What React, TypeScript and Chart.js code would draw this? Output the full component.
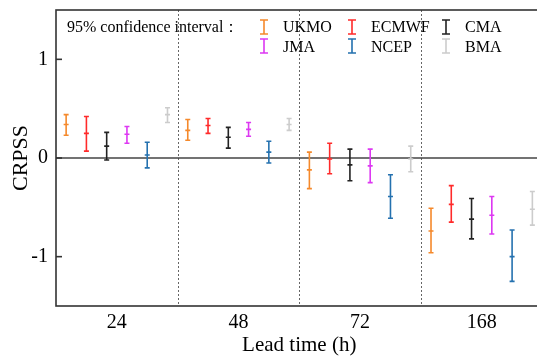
import { useEffect, useRef } from 'react';
import { Chart, registerables } from 'chart.js';

Chart.register(...registerables);

// ---------- data ----------
const leadTimes = ['24', '48', '72', '168'];
const modelNames = ['UKMO', 'ECMWF', 'CMA', 'JMA', 'NCEP', 'BMA'];
const modelColors = ['#F5892B', '#FF2A2A', '#222222', '#DD38F2', '#2471AF', '#CCCCCC'];

const ukmoMean = [0.34, 0.28, -0.12, -0.74];
const ukmoLow = [0.23, 0.18, -0.31, -0.96];
const ukmoHigh = [0.44, 0.39, 0.06, -0.51];

const ecmwfMean = [0.25, 0.33, -0.01, -0.47];
const ecmwfLow = [0.07, 0.25, -0.16, -0.65];
const ecmwfHigh = [0.42, 0.40, 0.15, -0.28];

const cmaMean = [0.12, 0.21, -0.07, -0.62];
const cmaLow = [-0.02, 0.10, -0.23, -0.82];
const cmaHigh = [0.26, 0.31, 0.09, -0.41];

const jmaMean = [0.24, 0.29, -0.08, -0.58];
const jmaLow = [0.15, 0.22, -0.25, -0.77];
const jmaHigh = [0.32, 0.36, 0.09, -0.39];

const ncepMean = [0.03, 0.06, -0.39, -1.0];
const ncepLow = [-0.10, -0.05, -0.61, -1.25];
const ncepHigh = [0.16, 0.17, -0.17, -0.73];

const bmaMean = [0.44, 0.34, -0.01, -0.52];
const bmaLow = [0.36, 0.28, -0.14, -0.68];
const bmaHigh = [0.51, 0.40, 0.12, -0.34];

const yTickValues = [-1, 0, 1];
const dividerValues = [1, 2, 3];
const legendTitle = '95% confidence interval：';

const seriesMeans = [ukmoMean, ecmwfMean, cmaMean, jmaMean, ncepMean, bmaMean];
const seriesLows = [ukmoLow, ecmwfLow, cmaLow, jmaLow, ncepLow, bmaLow];
const seriesHighs = [ukmoHigh, ecmwfHigh, cmaHigh, jmaHigh, ncepHigh, bmaHigh];

const FONT = '"Liberation Serif", "Times New Roman", serif';

function buildDatasets() {
  const nModels = modelNames.length;
  return modelNames.map((name, j) => {
    const data: any[] = [];
    leadTimes.forEach((_, g) => {
      const x = g + (j + 0.5) / nModels;
      data.push({ x, y: seriesLows[j][g] });
      data.push({ x, y: seriesMeans[j][g] });
      data.push({ x, y: seriesHighs[j][g] });
      data.push({ x, y: null });
    });
    return {
      type: 'line' as const,
      label: name,
      data,
      borderColor: modelColors[j],
      backgroundColor: modelColors[j],
      borderWidth: 1.6,
      pointStyle: 'line' as const,
      pointRadius: 2.5,
      pointHoverRadius: 2.5,
      pointBorderWidth: 1.6,
      pointBorderColor: modelColors[j],
      spanGaps: false,
      tension: 0,
    };
  });
}

const framePlugin = {
  id: 'frameAndDecor',
  beforeDatasetsDraw(chart: any) {
    const { ctx, chartArea } = chart;
    const { left, right, top, bottom } = chartArea;
    const xs = chart.scales.x;
    const ys = chart.scales.y;
    ctx.save();
    // dashed dividers
    ctx.strokeStyle = '#666666';
    ctx.lineWidth = 1;
    ctx.setLineDash([2, 2]);
    dividerValues.forEach((v) => {
      const px = Math.round(xs.getPixelForValue(v)) + 0.5;
      ctx.beginPath();
      ctx.moveTo(px, top);
      ctx.lineTo(px, bottom);
      ctx.stroke();
    });
    ctx.setLineDash([]);
    // zero line
    const y0 = ys.getPixelForValue(0);
    ctx.strokeStyle = '#444444';
    ctx.lineWidth = 1.6;
    ctx.beginPath();
    ctx.moveTo(left, y0);
    ctx.lineTo(right, y0);
    ctx.stroke();
    ctx.restore();
  },
  afterDraw(chart: any) {
    const { ctx, chartArea } = chart;
    const { left, right, top, bottom } = chartArea;
    const ys = chart.scales.y;
    ctx.save();
    // frame
    ctx.strokeStyle = '#333333';
    ctx.lineWidth = 1.6;
    ctx.strokeRect(left, top, right - left, bottom - top);
    // inward y ticks
    yTickValues.forEach((v) => {
      const py = ys.getPixelForValue(v);
      ctx.beginPath();
      ctx.moveTo(left, py);
      ctx.lineTo(left + 6, py);
      ctx.stroke();
    });
    // legend
    ctx.fillStyle = '#000000';
    ctx.font = `16px ${FONT}`;
    ctx.textBaseline = 'alphabetic';
    ctx.textAlign = 'left';
    ctx.fillText(legendTitle, 67, 32);
    const colX = [264, 352, 446];
    const rows = [
      { top: 20, bottom: 34, base: 32 },
      { top: 39, bottom: 53, base: 52 },
    ];
    modelNames.forEach((name, j) => {
      const row = rows[Math.floor(j / 3)];
      const cx = colX[j % 3];
      ctx.strokeStyle = modelColors[j];
      ctx.lineWidth = 1.6;
      ctx.beginPath();
      ctx.moveTo(cx, row.top);
      ctx.lineTo(cx, row.bottom);
      ctx.moveTo(cx - 4, row.top);
      ctx.lineTo(cx + 4, row.top);
      ctx.moveTo(cx - 4, row.bottom);
      ctx.lineTo(cx + 4, row.bottom);
      ctx.stroke();
      ctx.fillStyle = '#000000';
      ctx.fillText(name, cx + 19, row.base);
    });
    ctx.restore();
  },
};

export default function App() {
  const ref = useRef<HTMLCanvasElement>(null);
  useEffect(() => {
    document.body.style.margin = '0';
    document.body.style.overflow = 'hidden';
    const chart = new Chart(ref.current as HTMLCanvasElement, {
      type: 'line',
      data: { datasets: buildDatasets() as any },
      plugins: [framePlugin],
      options: {
        responsive: false,
        animation: false,
        events: [],
        layout: { padding: { left: 0, top: 10, right: 7.5, bottom: 0 } },
        plugins: { legend: { display: false }, tooltip: { enabled: false } },
        scales: {
          x: {
            type: 'linear',
            min: 0,
            max: 4,
            grid: { display: false, drawTicks: false },
            border: { display: false },
            afterBuildTicks: (scale: any) => {
              scale.ticks = leadTimes.map((_, i) => ({ value: i + 0.5 }));
            },
            afterFit: (scale: any) => {
              scale.height = 52;
              scale.paddingLeft = 0;
              scale.paddingRight = 0;
            },
            ticks: {
              padding: 5,
              color: '#000000',
              font: { family: FONT, size: 20 },
              maxRotation: 0,
              callback: (_v: any, i: number) => leadTimes[i],
            },
            title: {
              display: true,
              text: 'Lead time (h)',
              color: '#000000',
              font: { family: FONT, size: 21 },
              padding: { top: 0, bottom: 0 },
            },
          },
          y: {
            type: 'linear',
            min: -1.5,
            max: 1.5,
            grid: { display: false, drawTicks: false },
            border: { display: false },
            afterBuildTicks: (scale: any) => {
              scale.ticks = yTickValues.map((v) => ({ value: v }));
            },
            afterFit: (scale: any) => {
              scale.width = 56;
              scale.paddingTop = 0;
              scale.paddingBottom = 0;
            },
            ticks: {
              padding: 8,
              color: '#000000',
              font: { family: FONT, size: 20 },
              callback: (v: any) => String(v),
            },
            title: {
              display: true,
              text: 'CRPSS',
              color: '#000000',
              font: { family: FONT, size: 22 },
              padding: { top: 8, bottom: 0 },
            },
          },
        },
      },
    });
    return () => chart.destroy();
  }, []);
  return (
    <div style={{ width: 537, height: 358, overflow: 'hidden' }}>
      <canvas ref={ref} width={550} height={358} style={{ display: 'block' }} />
    </div>
  );
}
